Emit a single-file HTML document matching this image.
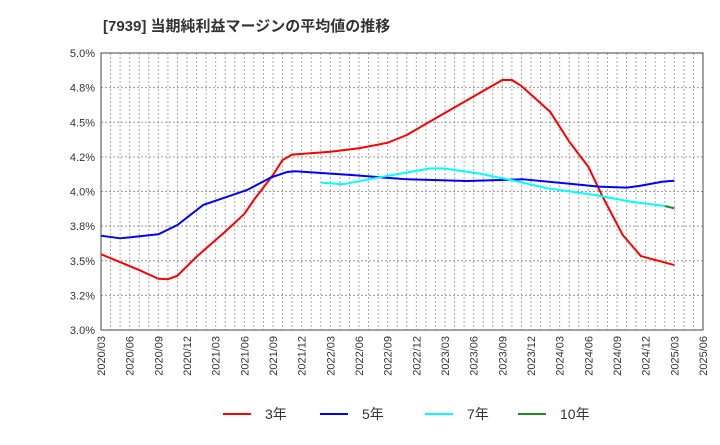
<!DOCTYPE html>
<html><head><meta charset="utf-8"><style>
body{margin:0;background:#fff;font-family:"Liberation Sans","Noto Sans CJK JP",sans-serif}
</style></head><body>
<svg id="c" width="720" height="440" xmlns="http://www.w3.org/2000/svg" font-family="Liberation Sans, Noto Sans CJK JP, sans-serif">
<text x="103" y="31" font-size="15" font-weight="bold" fill="#333">[7939]  当期純利益マージンの平均値の推移</text>
<g id="grid"></g><g id="axes"></g><g id="series"></g><g id="legend"></g>
</svg>
<script>
const xTickLabels=["2020/03","2020/06","2020/09","2020/12","2021/03","2021/06","2021/09","2021/12","2022/03","2022/06","2022/09","2022/12","2023/03","2023/06","2023/09","2023/12","2024/03","2024/06","2024/09","2024/12","2025/03","2025/06"];
const yTicks=[3.0,3.25,3.5,3.75,4.0,4.25,4.5,4.75,5.0];
const yTickLabels=["3.0%","3.2%","3.5%","3.8%","4.0%","4.2%","4.5%","4.8%","5.0%"];
const redMonths=[0,4,6,7,8,10,13,15,16,18,19,20,24,27,30,32,35,42,43,44,47,49,51,52.5,54.6,56.5,60];
const redValues=[3.547,3.433,3.370,3.366,3.392,3.529,3.710,3.838,3.939,4.119,4.227,4.266,4.287,4.312,4.352,4.408,4.528,4.805,4.805,4.762,4.576,4.360,4.179,3.962,3.686,3.534,3.469];
const blueMonths=[0,2,6,8,10.7,15.3,17.8,19.5,20.3,26.2,32,38.3,44.2,49.6,52.1,55,56.3,58.8,60];
const blueValues=[3.681,3.662,3.691,3.758,3.903,4.011,4.102,4.141,4.146,4.119,4.088,4.076,4.088,4.052,4.035,4.028,4.040,4.071,4.078];
const cyanMonths=[23,25.3,29.5,34.5,35.8,39.5,42.9,46.7,51.7,55.5,59,60];
const cyanValues=[4.064,4.052,4.107,4.167,4.167,4.131,4.083,4.023,3.975,3.926,3.895,3.879];
const greenMonths=[59,60];
const greenValues=[3.895,3.879];
const NS="http://www.w3.org/2000/svg";
const L=101,R=703,T=53,B=330;
const xs=m=>L+(R-L)*m/63;
const ys=v=>B-(v-3)/2*(B-T);
function mk(tag,attrs,parent){const e=document.createElementNS(NS,tag);for(const k in attrs)e.setAttribute(k,attrs[k]);document.getElementById(parent).appendChild(e);return e;}
for(let m=1;m<63;m++){const e=mk('line',{x1:xs(m),x2:xs(m),y1:T,y2:B,stroke:'#aaa','stroke-dasharray':'2,2','stroke-width':1},'grid');

}
yTicks.forEach((v,i)=>{if(i>0&&i<yTicks.length-1){const e=mk('line',{x1:L,x2:R,y1:ys(v),y2:ys(v),stroke:'#999','stroke-dasharray':'2,2'},'grid');

}
const t=mk('text',{x:L-6,y:ys(v)+4,'text-anchor':'end','font-size':11,fill:'#333'},'axes');t.textContent=yTickLabels[i];

});
xTickLabels.forEach((s,i)=>{const x=xs(i*3);const t=mk('text',{x:0,y:0,transform:`translate(${x+4},336) rotate(-90)`,'text-anchor':'end','font-size':11,fill:'#333'},'axes');t.textContent=s;

});
const fr=mk('rect',{x:L,y:T,width:R-L,height:B-T,fill:'none',stroke:'#444','stroke-width':1},'axes');


function line(ms,vs,col,name){const p=mk('polyline',{points:ms.map((m,i)=>xs(m)+','+ys(vs[i])).join(' '),fill:'none',stroke:col,'stroke-width':2,'stroke-linejoin':'round'},'series');

}
line(redMonths,redValues,'#f00','series-3yr');
line(blueMonths,blueValues,'#00f','series-5yr');
line(cyanMonths,cyanValues,'#0ff','series-7yr');
line(greenMonths,greenValues,'#228b22','series-10yr');
[["3年",'#f00',223],["5年",'#00f',320],["7年",'#0ff',425],["10年",'#228b22',518]].forEach(d=>{
const l=mk('line',{x1:d[2],x2:d[2]+28,y1:414,y2:414,stroke:d[1],'stroke-width':2},'legend');


const t=mk('text',{x:d[2]+42,y:419,'font-size':14,fill:'#333'},'legend');t.textContent=d[0];

});
</script>
</body></html>
